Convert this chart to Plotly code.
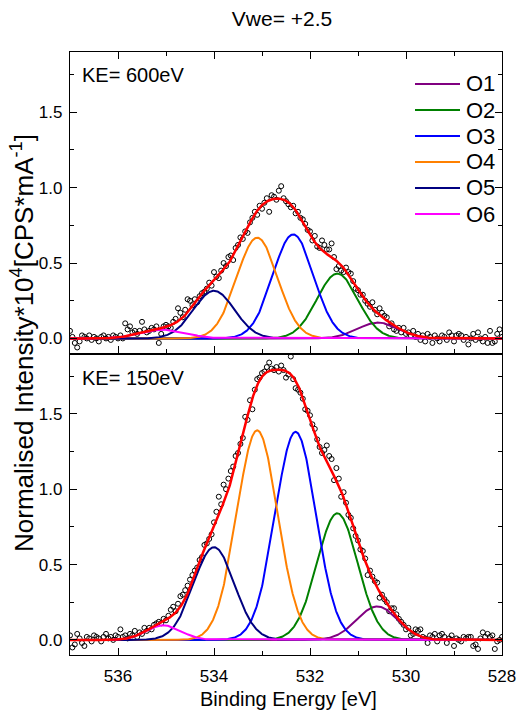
import numpy as np
import plotly.graph_objects as go
from plotly.subplots import make_subplots

# ---------------- data ----------------
be_start, be_step, n_points = 537.0, 0.05, 181          # measured binding-energy grid
binding_energy = np.round(be_start - be_step * np.arange(n_points), 2)

# KE = 600 eV, measured points (normalised intensity)
top_counts = [
    0.05, 0.01, -0.03, -0.06, -0.02, 0.02, 0.01, 0.00, 0.02, -0.01, 0.01, 0.00, -0.02, 0.01, 0.02, 0.00, 0.01, -0.01, 0.02, 0.01, 0.00,
    0.02, 0.00, 0.10, 0.06, 0.08, 0.04, 0.05, 0.03, 0.05, 0.11, 0.06, 0.04, 0.05, 0.07, 0.06, 0.08, -0.03, 0.03, 0.08, 0.09,
    0.08, 0.07, 0.11, 0.13, 0.20, 0.17, 0.14, 0.19, 0.26, 0.25, 0.22, 0.26, 0.24, 0.28, 0.30, 0.31, 0.33, 0.37, 0.35, 0.44,
    0.41, 0.40, 0.45, 0.50, 0.48, 0.54, 0.55, 0.52, 0.60, 0.62, 0.67, 0.66, 0.71, 0.70, 0.77, 0.80, 0.84, 0.82, 0.88, 0.86,
    0.90, 0.93, 0.84, 0.95, 0.94, 0.92, 0.98, 1.01, 0.93, 0.91, 0.89, 0.87, 0.88, 0.83, 0.84, 0.80, 0.79, 0.76, 0.72, 0.71,
    0.65, 0.68, 0.61, 0.60, 0.65, 0.62, 0.59, 0.59, 0.63, 0.54, 0.46, 0.48, 0.45, 0.44, 0.47, 0.44, 0.43, 0.38, 0.33, 0.32,
    0.29, 0.29, 0.25, 0.23, 0.21, 0.24, 0.19, 0.16, 0.20, 0.17, 0.15, 0.14, 0.08, 0.10, 0.06, 0.05, 0.07, 0.04, 0.07, 0.03,
    0.04, 0.02, 0.05, 0.01, 0.03, -0.01, 0.02, -0.02, 0.03, 0.01, -0.03, 0.02, 0.00, -0.02, 0.02, 0.01, -0.01, 0.04, 0.02, -0.02,
    0.02, 0.03, 0.02, -0.01, 0.01, -0.04, 0.00, 0.03, -0.01, 0.04, 0.00, -0.02, 0.01, -0.03, 0.05, -0.03, -0.02, 0.03, 0.06, 0.01,
]

# KE = 150 eV, measured points
bottom_counts = [
    0.03, -0.05, -0.03, 0.04, 0.01, -0.02, -0.04, 0.02, 0.01, -0.01, 0.03, 0.02, 0.01, -0.01, 0.02, 0.04, 0.01, 0.02, 0.00, 0.03, 0.02,
    0.07, 0.02, 0.03, 0.01, 0.04, 0.03, 0.06, 0.02, 0.05, 0.04, 0.08, 0.06, 0.08, 0.07, 0.10, 0.11, 0.12, 0.11, 0.14, 0.13,
    0.16, 0.20, 0.22, 0.19, 0.24, 0.29, 0.30, 0.33, 0.36, 0.40, 0.43, 0.46, 0.48, 0.53, 0.55, 0.63, 0.64, 0.67, 0.70, 0.78,
    0.85, 0.95, 0.90, 1.03, 1.00, 1.07, 1.12, 1.15, 1.22, 1.24, 1.30, 1.34, 1.48, 1.46, 1.59, 1.53, 1.66, 1.73, 1.74, 1.77,
    1.78, 1.81, 1.84, 1.80, 1.79, 1.81, 1.78, 1.82, 1.79, 1.74, 1.76, 1.88, 1.73, 1.67, 1.66, 1.64, 1.60, 1.53, 1.52, 1.49,
    1.43, 1.40, 1.33, 1.28, 1.24, 1.26, 1.29, 1.22, 1.20, 1.06, 1.14, 1.07, 0.95, 0.98, 0.91, 0.83, 0.81, 0.74, 0.69, 0.66,
    0.60, 0.59, 0.54, 0.43, 0.46, 0.42, 0.39, 0.38, 0.28, 0.30, 0.27, 0.25, 0.19, 0.21, 0.21, 0.17, 0.14, 0.12, 0.10, 0.07,
    0.08, 0.03, 0.04, 0.07, 0.06, 0.07, 0.02, 0.01, -0.02, 0.03, 0.02, 0.04, -0.01, 0.03, 0.04, 0.02, -0.02, 0.01, 0.03, -0.04,
    0.01, 0.00, -0.01, 0.02, 0.01, 0.02, 0.02, -0.04, -0.03, -0.06, 0.01, 0.05, 0.02, 0.04, 0.02, 0.03, -0.06, -0.01, 0.00, 0.02,
]

# fitted components (Gaussian peaks): centre [eV], height, FWHM [eV]
component_names = ["O1", "O2", "O3", "O4", "O5", "O6"]
top_center = [530.58, 531.43, 532.35, 533.10, 534.00, 535.05]
top_height = [0.105, 0.43, 0.69, 0.668, 0.316, 0.058]
top_fwhm = [1.0, 1.0, 1.0, 1.0, 1.0, 1.1]
bottom_center = [530.60, 531.43, 532.30, 533.10, 534.00, 535.05]
bottom_height = [0.222, 0.84, 1.38, 1.39, 0.615, 0.097]
bottom_fwhm = [1.0, 1.0, 1.0, 1.0, 1.0, 0.85]

panel_labels = ["KE= 600eV", "KE= 150eV"]
x_ticks = [536, 534, 532, 530, 528]
y_ticks = [0.0, 0.5, 1.0, 1.5]

# ---------------- styles ----------------
colors = ["#800080", "#008000", "#0000FF", "#FF8000", "#000080", "#FF00FF"]
FONT = "Liberation Sans, Arial, sans-serif"
W, H = 519, 717
ML, MR, MT, MB = 70, 17, 52, 62
PW, PH = W - ML - MR, H - MT - MB

fine = np.linspace(528.0, 537.0, 901)


def peak(c, h, w):
    return h * np.exp(-4 * np.log(2) * (fine - c) ** 2 / w ** 2)


def px_x(px):
    return (px - ML) / PW


def px_y(py):
    return (H - MB - py) / PH


fig = make_subplots(rows=2, cols=1, shared_xaxes=True, vertical_spacing=0)

panels = [
    (1, top_counts, top_center, top_height, top_fwhm),
    (2, bottom_counts, bottom_center, bottom_height, bottom_fwhm),
]
for row, counts, cen, hei, fw in panels:
    fig.add_trace(go.Scatter(
        x=binding_energy, y=counts, mode="markers",
        marker=dict(symbol="circle-open", size=5, color="black", line=dict(width=1)),
        showlegend=False, hoverinfo="skip"), row=row, col=1)
    total = np.zeros_like(fine)
    for k, name in enumerate(component_names):
        curve = peak(cen[k], hei[k], fw[k])
        total += curve
        fig.add_trace(go.Scatter(
            x=fine, y=curve, mode="lines", name=name,
            line=dict(color=colors[k], width=2), showlegend=False), row=row, col=1)
    fig.add_trace(go.Scatter(
        x=fine, y=total, mode="lines", name="Fit", line=dict(color="#FF0000", width=2.5),
        showlegend=False), row=row, col=1)

axis_common = dict(
    showline=True, linecolor="black", linewidth=1.2, ticks="inside", ticklen=7,
    tickwidth=1.2, tickcolor="black", showgrid=False, zeroline=False, automargin=False,
    tickfont=dict(family=FONT, size=17, color="black"),
)

fig.update_xaxes(range=[537, 528], tickvals=x_ticks,
                 minor=dict(dtick=1, ticklen=4, ticks="inside", tickcolor="black", tickwidth=1.2),
                 **axis_common)
fig.update_xaxes(mirror="allticks", showticklabels=False, row=1, col=1)
fig.update_xaxes(mirror=True, showticklabels=True, ticklabelstandoff=5, row=2, col=1)
fig.update_yaxes(range=[-0.1, 1.9], tickvals=y_ticks, tickformat=".1f", mirror="allticks",
                 minor=dict(dtick=0.25, tick0=0, ticklen=4, ticks="inside", tickcolor="black", tickwidth=1.2),
                 ticklabelstandoff=3, **axis_common)

annotations = [
    dict(text=panel_labels[0], xref="x domain", yref="y domain", x=0.022, y=0.925,
         xanchor="left", yanchor="middle", showarrow=False,
         font=dict(family=FONT, size=20, color="black")),
    dict(text=panel_labels[1], xref="x2 domain", yref="y2 domain", x=0.022, y=0.92,
         xanchor="left", yanchor="middle", showarrow=False,
         font=dict(family=FONT, size=20, color="black")),
    dict(text="Binding Energy [eV]", xref="paper", yref="paper", x=px_x(288), y=px_y(699),
         xanchor="center", yanchor="middle", showarrow=False,
         font=dict(family=FONT, size=20, color="black")),
    dict(text="Normalised Intensity*10<sup>4</sup>[CPS*mA<sup>-1</sup>]", xref="paper", yref="paper",
         x=px_x(22), y=px_y(343), xanchor="center", yanchor="middle", textangle=-90, showarrow=False,
         font=dict(family=FONT, size=26, color="black")),
]

# legend block drawn in the top panel (line sample + label per component)
shapes = []
leg_x0, leg_x1, leg_tx, leg_y0, leg_dy = 415, 460, 464, 84, 26.0
for k, name in enumerate(component_names):
    yy = px_y(leg_y0 + k * leg_dy)
    shapes.append(dict(type="line", xref="paper", yref="paper", x0=px_x(leg_x0), x1=px_x(leg_x1),
                       y0=yy, y1=yy, line=dict(color=colors[k], width=2)))
    annotations.append(dict(text=name, xref="paper", yref="paper", x=px_x(leg_tx), y=yy,
                            xanchor="left", yanchor="middle", showarrow=False,
                            font=dict(family=FONT, size=22, color="black")))

fig.update_layout(
    width=W, height=H,
    margin=dict(l=ML, r=MR, t=MT, b=MB, autoexpand=False),
    paper_bgcolor="white", plot_bgcolor="white",
    showlegend=False,
    title=dict(text="Vwe= +2.5", x=282 / W, xanchor="center", y=1 - 19 / H, yanchor="middle",
               font=dict(family=FONT, size=21, color="black")),
    annotations=annotations,
    shapes=shapes,
)

fig.write_html("out.html")
